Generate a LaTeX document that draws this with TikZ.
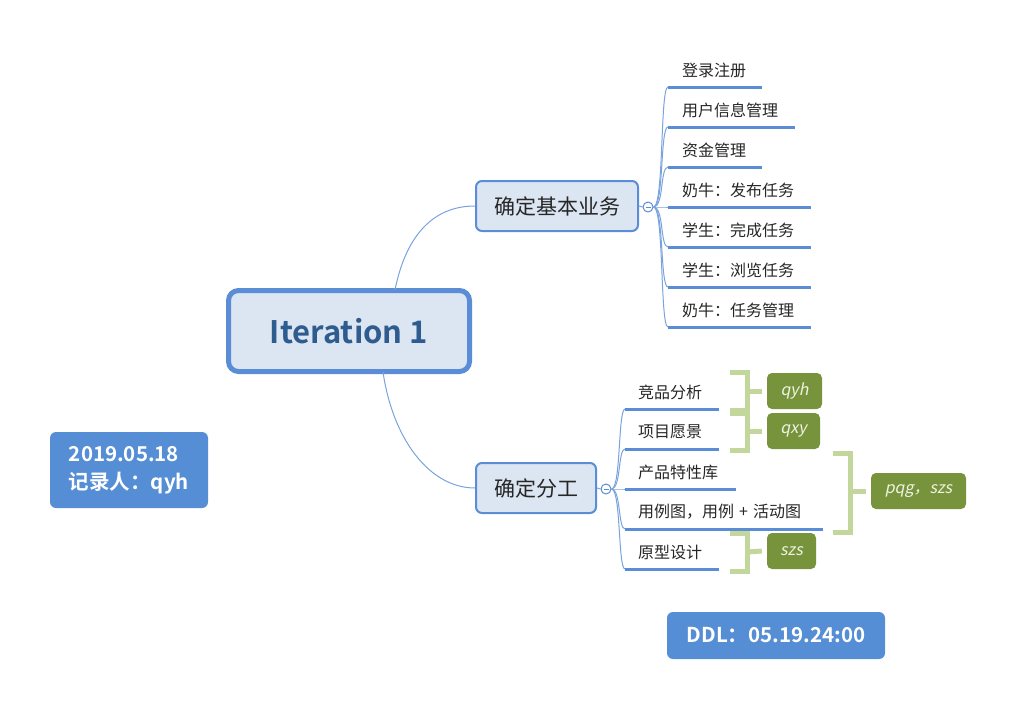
\documentclass[tikz,border=0pt]{standalone}
\usepackage{fontspec}
\setmainfont{Noto Sans CJK SC}[BoldFont={Noto Sans CJK SC Bold}]
\newfontfamily\slfont{Noto Sans CJK SC}[FakeSlant=0.2]
\definecolor{mblue}{HTML}{5B8DD6}
\definecolor{cfill}{HTML}{DCE6F2}
\definecolor{ctext}{HTML}{2F5C8F}
\definecolor{lgreen}{HTML}{C3D69B}
\definecolor{olive}{HTML}{77933C}
\definecolor{boxblue}{HTML}{558ED5}
\definecolor{ltext}{HTML}{EEF3E2}
\definecolor{leaftext}{HTML}{262626}
\definecolor{linkblue}{HTML}{7AA3DC}
\begin{document}
\begin{tikzpicture}[x=1pt,y=-1pt,
  central/.style={draw=mblue, line width=5pt, fill=cfill, rounded corners=10pt,
    inner sep=0pt, text=ctext, font=\fontsize{31}{35}\selectfont\bfseries},
  subtopic/.style={draw=mblue, line width=2pt, fill=cfill, rounded corners=6pt,
    inner sep=0pt, minimum height=50pt, text=leaftext, font=\fontsize{21}{24}\selectfont},
  collapse/.style={circle, draw=mblue, line width=1pt, fill=white, minimum size=10pt, inner sep=0pt},
  leaf/.style={anchor=west, inner sep=0pt, text=leaftext, font=\fontsize{16}{19}\selectfont},
  uline/.style={draw=mblue, line width=3pt},
  branch/.style={draw=linkblue, line width=1pt},
  bracketline/.style={draw=lgreen, line width=5pt, miter limit=10},
  tag/.style={fill=olive, rounded corners=5pt, minimum height=36pt, inner sep=0pt,
    text=ltext, font=\fontsize{16}{19}\selectfont\slfont},
  note/.style={fill=boxblue, rounded corners=6pt, inner sep=0pt, text=white,
    font=\fontsize{20.5}{28}\selectfont\bfseries}
]
\useasboundingbox (0,0) rectangle (1020,701);

% central and subtopics
\node[central, minimum width=241pt, minimum height=81pt] (c) at (349,331) {Iteration 1};
\node[subtopic, minimum width=162pt] (s1) at (557,206) {确定基本业务};
\node[subtopic, minimum width=120pt] (s2) at (536,488) {确定分工};

\coordinate (ct) at (395,290);
\coordinate (cb) at (383,372);
\draw[branch] (ct) .. controls (405,240) and (430,206) .. (s1.west);
\draw[branch] (cb) .. controls (393,440) and (430,488) .. (s2.west);

\node[collapse] (o1) at (648,207) {};
\node[collapse] (o2) at (606,489) {};
\draw[branch] (s1.east) -- (o1.west);
\draw[branch] (s2.east) -- (o2.west);
\draw[draw=mblue, line width=0.8pt] ([xshift=-2.5pt]o1.center) -- ([xshift=2.5pt]o1.center);
\draw[draw=mblue, line width=0.8pt] ([xshift=-2.5pt]o2.center) -- ([xshift=2.5pt]o2.center);

% leaves of subtopic 1
\foreach \i/\y/\e/\t in {1/87/762/登录注册, 2/127/795/用户信息管理, 3/167/762/资金管理,
    4/207/811/奶牛：发布任务, 5/247/811/学生：完成任务, 6/287/811/学生：浏览任务,
    7/327/811/奶牛：任务管理} {
  \coordinate (a\i s) at (668,\y);
  \coordinate (a\i e) at (\e,\y);
  \node[leaf] (a\i) at (682,\y-17) {\t};
  \draw[branch] (o1.east) .. controls (664,207) and (660,\y) .. (a\i s);
  \draw[uline] (a\i s) -- (a\i e);
}

% leaves of subtopic 2
\foreach \i/\y/\e/\t in {1/409/719/竞品分析, 2/449/719/项目愿景, 3/489/736/产品特性库,
    4/529/823/{用例图，用例\hspace{5pt}+\hspace{5pt}活动图}, 5/569/719/原型设计} {
  \coordinate (b\i s) at (625,\y);
  \coordinate (b\i e) at (\e,\y);
  \node[leaf] (b\i) at (638,\y-17) {\t};
  \draw[branch] (o2.east) .. controls (621,489) and (618,\y) .. (b\i s);
  \draw[uline] (b\i s) -- (b\i e);
}

% tags
\node[tag, minimum width=55pt] (t1) at (794.5,391) {qyh};
\node[tag, minimum width=53pt] (t2) at (793.5,431) {qxy};
\node[tag, minimum width=95pt] (t3) at (918.5,491) {pqg，szs};
\node[tag, minimum width=49pt] (t4) at (791.5,551) {szs};

% brackets
\coordinate (k1a) at (730,372); \coordinate (k1b) at (747,372);
\coordinate (k1c) at (747,410); \coordinate (k1d) at (730,410);
\coordinate (k1m) at (747,391);
\draw[bracketline] (k1a) -- (k1b) -- (k1c) -- (k1d);
\draw[bracketline] (k1m) -- ([xshift=-5pt]t1.west);

\coordinate (k2a) at (730,413); \coordinate (k2b) at (747,413);
\coordinate (k2c) at (747,450); \coordinate (k2d) at (730,450);
\coordinate (k2m) at (747,431);
\draw[bracketline] (k2a) -- (k2b) -- (k2c) -- (k2d);
\draw[bracketline] (k2m) -- ([xshift=-5pt]t2.west);

\coordinate (k3a) at (833,453); \coordinate (k3b) at (850,453);
\coordinate (k3c) at (850,532); \coordinate (k3d) at (833,532);
\coordinate (k3m) at (850,491);
\draw[bracketline] (k3a) -- (k3b) -- (k3c) -- (k3d);
\draw[bracketline] (k3m) -- ([xshift=-5pt]t3.west);

\coordinate (k4a) at (730,533); \coordinate (k4b) at (747,533);
\coordinate (k4c) at (747,571); \coordinate (k4d) at (730,571);
\coordinate (k4m) at (747,552);
\draw[bracketline] (k4a) -- (k4b) -- (k4c) -- (k4d);
\draw[bracketline] (k4m) -- ([xshift=-5pt]t4.west);

% notes
\node[note, minimum width=158pt, minimum height=76pt, align=left] (date) at (129,470)
  {2019.05.18\\记录人：qyh};
\node[note, minimum width=218pt, minimum height=47pt] (ddl) at (776,635.5)
  {DDL：05.19.24:00};
\end{tikzpicture}
\end{document}
